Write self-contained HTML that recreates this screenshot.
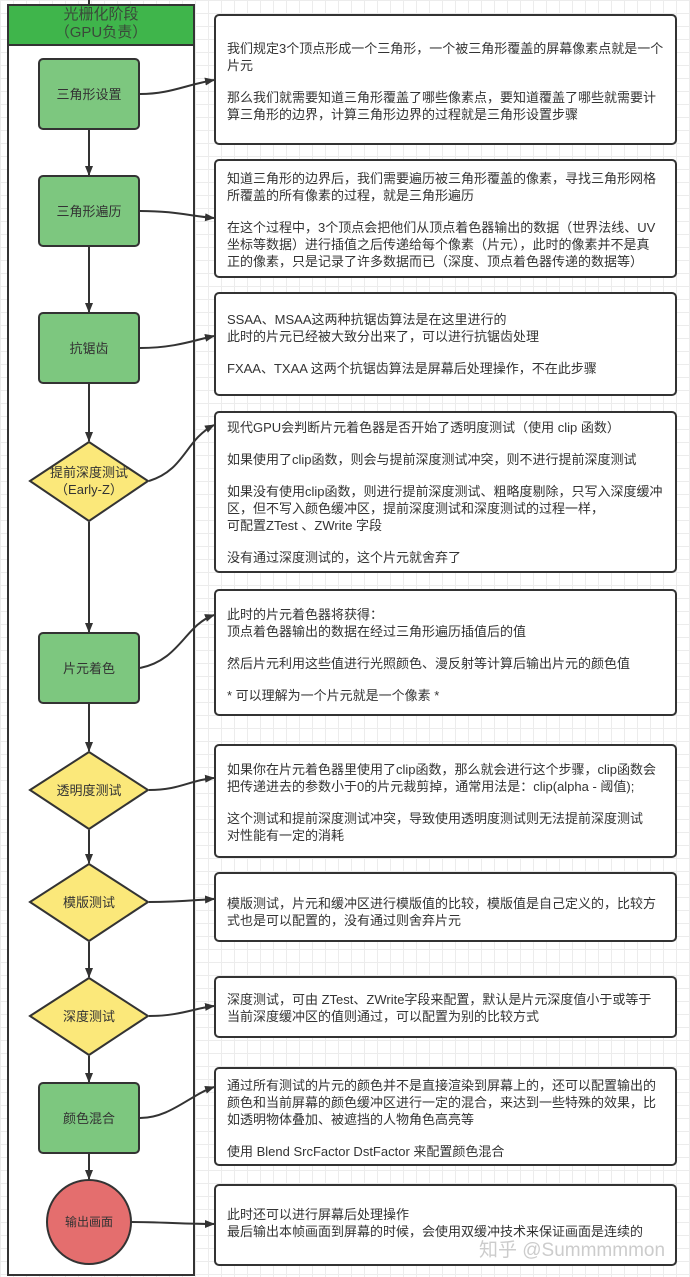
<!DOCTYPE html>
<html><head><meta charset="utf-8"><style>
body{margin:0;width:690px;height:1277px;overflow:hidden;background:#fff;
background-image:linear-gradient(#ececec 1px,transparent 1px),linear-gradient(90deg,#ececec 1px,transparent 1px);background-size:13px 13px;
font-family:"Liberation Sans","Noto Sans CJK SC",sans-serif;position:relative}
.t{position:absolute;left:227px;width:445px;font-size:13px;line-height:17px;color:#333;white-space:nowrap}
.t p{margin:0 0 15px 0}
.n{position:absolute;font-size:13px;color:#333;text-align:center;width:118px;left:30px;line-height:17px}
</style></head><body>
<svg width="690" height="1277" style="position:absolute;left:0;top:0">
<defs><marker id="a" markerWidth="10" markerHeight="10" refX="9" refY="5" orient="auto" markerUnits="userSpaceOnUse"><path d="M0,1 L10,5 L0,9 Z" fill="#333"/></marker></defs>
<g stroke="#333" stroke-width="2" fill="#fff">
<rect x="8" y="5" width="186" height="1270"/>
<rect x="8" y="5" width="186" height="40" fill="#3fb54b"/>
</g>
<line x1="89" y1="0" x2="89" y2="5" stroke="#333" stroke-width="2"/>
<g stroke="#333" stroke-width="2" fill="none" marker-end="url(#a)">
<line x1="89" y1="130" x2="89" y2="175"/>
<line x1="89" y1="247" x2="89" y2="312"/>
<line x1="89" y1="384" x2="89" y2="441"/>
<line x1="89" y1="522" x2="89" y2="632"/>
<line x1="89" y1="704" x2="89" y2="751"/>
<line x1="89" y1="830" x2="89" y2="863"/>
<line x1="89" y1="942" x2="89" y2="977"/>
<line x1="89" y1="1056" x2="89" y2="1082"/>
<line x1="89" y1="1154" x2="89" y2="1179"/>
<path d="M140,94 C170,94 185,85 214,80"/>
<path d="M140,211 C175,211 190,216 214,218"/>
<path d="M140,348 C175,348 195,340 214,336"/>
<path d="M149,481 C185,470 185,440 214,425"/>
<path d="M140,668 C180,660 185,625 214,615"/>
<path d="M149,790 C180,790 190,780 214,778"/>
<path d="M149,902 C180,902 195,900 214,899"/>
<path d="M149,1016 C180,1016 195,1008 214,1006"/>
<path d="M140,1118 C170,1118 190,1095 214,1087"/>
<path d="M131,1222 C160,1222 185,1224 214,1224"/>
</g>
<g stroke="#333" stroke-width="2">
<rect x="39" y="59" width="100" height="70" rx="4" fill="#7dc77f"/>
<rect x="39" y="176" width="100" height="70" rx="4" fill="#7dc77f"/>
<rect x="39" y="313" width="100" height="70" rx="4" fill="#7dc77f"/>
<polygon points="30,481 89,442 148,481 89,521" fill="#fbe87a"/>
<rect x="39" y="633" width="100" height="70" rx="4" fill="#7dc77f"/>
<polygon points="30,790 89,752 148,790 89,829" fill="#fbe87a"/>
<polygon points="30,902 89,864 148,902 89,941" fill="#fbe87a"/>
<polygon points="30,1016 89,978 148,1016 89,1055" fill="#fbe87a"/>
<rect x="39" y="1083" width="100" height="70" rx="4" fill="#7dc77f"/>
<circle cx="89" cy="1222" r="42" fill="#e46e6e"/>
</g>
<g stroke="#333" stroke-width="2" fill="#fff">
<rect x="215" y="15" width="461" height="129" rx="4"/>
<rect x="215" y="160" width="461" height="117" rx="4"/>
<rect x="215" y="293" width="461" height="102" rx="4"/>
<rect x="215" y="412" width="461" height="160" rx="4"/>
<rect x="215" y="590" width="461" height="125" rx="4"/>
<rect x="215" y="745" width="461" height="112" rx="4"/>
<rect x="215" y="873" width="461" height="68" rx="4"/>
<rect x="215" y="977" width="461" height="60" rx="4"/>
<rect x="215" y="1068" width="461" height="97" rx="4"/>
<rect x="215" y="1185" width="461" height="80" rx="4"/>
</g>
<text x="572" y="1256" font-size="19" fill="#ccc" text-anchor="middle" font-family="Liberation Sans,Noto Sans CJK SC,sans-serif">知乎 @Summmmmon</text>
</svg>
<div class="n" style="top:6px;left:8px;width:186px;font-size:15px;line-height:18px;color:#3a4a3a">光栅化阶段<br>（GPU负责）</div>
<div class="n" style="top:86px">三角形设置</div>
<div class="n" style="top:203px">三角形遍历</div>
<div class="n" style="top:340px">抗锯齿</div>
<div class="n" style="top:464px">提前深度测试<br>（Early-Z）</div>
<div class="n" style="top:660px">片元着色</div>
<div class="n" style="top:782px">透明度测试</div>
<div class="n" style="top:894px">模版测试</div>
<div class="n" style="top:1008px">深度测试</div>
<div class="n" style="top:1110px">颜色混合</div>
<div class="n" style="top:1214px;font-size:12px">输出画面</div>

<div class="t" style="top:40px"><p>我们规定3个顶点形成一个三角形，一个被三角形覆盖的屏幕像素点就是一个<br>片元</p><p>那么我们就需要知道三角形覆盖了哪些像素点，要知道覆盖了哪些就需要计<br>算三角形的边界，计算三角形边界的过程就是三角形设置步骤</p></div>
<div class="t" style="top:170px"><p>知道三角形的边界后，我们需要遍历被三角形覆盖的像素，寻找三角形网格<br>所覆盖的所有像素的过程，就是三角形遍历</p><p>在这个过程中，3个顶点会把他们从顶点着色器输出的数据（世界法线、UV<br>坐标等数据）进行插值之后传递给每个像素（片元），此时的像素并不是真<br>正的像素，只是记录了许多数据而已（深度、顶点着色器传递的数据等）</p></div>
<div class="t" style="top:311px"><p>SSAA、MSAA这两种抗锯齿算法是在这里进行的<br>此时的片元已经被大致分出来了，可以进行抗锯齿处理</p><p>FXAA、TXAA 这两个抗锯齿算法是屏幕后处理操作，不在此步骤</p></div>
<div class="t" style="top:419px"><p>现代GPU会判断片元着色器是否开始了透明度测试（使用 clip 函数）</p><p>如果使用了clip函数，则会与提前深度测试冲突，则不进行提前深度测试</p><p>如果没有使用clip函数，则进行提前深度测试、粗略度剔除，只写入深度缓冲<br>区，但不写入颜色缓冲区，提前深度测试和深度测试的过程一样，<br>可配置ZTest 、ZWrite 字段</p><p>没有通过深度测试的，这个片元就舍弃了</p></div>
<div class="t" style="top:606px"><p>此时的片元着色器将获得：<br>顶点着色器输出的数据在经过三角形遍历插值后的值</p><p>然后片元利用这些值进行光照颜色、漫反射等计算后输出片元的颜色值</p><p>* 可以理解为一个片元就是一个像素 *</p></div>
<div class="t" style="top:761px"><p>如果你在片元着色器里使用了clip函数，那么就会进行这个步骤，clip函数会<br>把传递进去的参数小于0的片元裁剪掉，通常用法是：clip(alpha - 阈值);</p><p>这个测试和提前深度测试冲突，导致使用透明度测试则无法提前深度测试<br>对性能有一定的消耗</p></div>
<div class="t" style="top:895px"><p>模版测试，片元和缓冲区进行模版值的比较，模版值是自己定义的，比较方<br>式也是可以配置的，没有通过则舍弃片元</p></div>
<div class="t" style="top:991px"><p>深度测试，可由 ZTest、ZWrite字段来配置，默认是片元深度值小于或等于<br>当前深度缓冲区的值则通过，可以配置为别的比较方式</p></div>
<div class="t" style="top:1077px"><p>通过所有测试的片元的颜色并不是直接渲染到屏幕上的，还可以配置输出的<br>颜色和当前屏幕的颜色缓冲区进行一定的混合，来达到一些特殊的效果，比<br>如透明物体叠加、被遮挡的人物角色高亮等</p><p>使用 Blend SrcFactor DstFactor 来配置颜色混合</p></div>
<div class="t" style="top:1206px"><p>此时还可以进行屏幕后处理操作<br>最后输出本帧画面到屏幕的时候，会使用双缓冲技术来保证画面是连续的</p></div>
</body></html>
